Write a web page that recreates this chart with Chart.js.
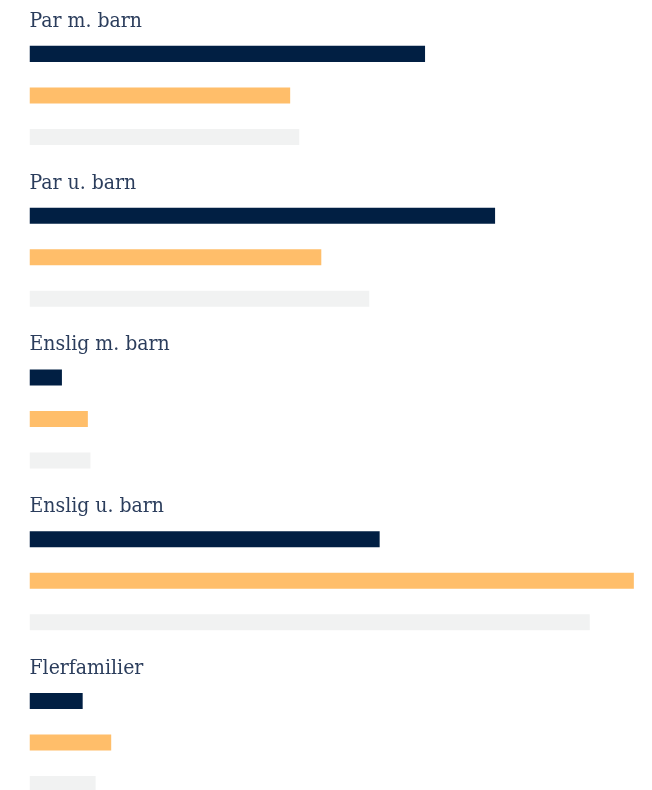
<!DOCTYPE html>
<html>
<head>
<meta charset="utf-8">
<script src="https://cdn.jsdelivr.net/npm/chart.js@4"></script>
<style>
  html, body { margin: 0; padding: 0; background: #ffffff; overflow: hidden; }
  #wrap { position: relative; width: 652px; height: 836px; }
</style>
</head>
<body>
<div id="wrap"><canvas id="c"></canvas></div>
<script>
const categories = ['Par m. barn', 'Par u. barn', 'Enslig m. barn', 'Enslig u. barn', 'Flerfamilier'];
const series1 = [30.5, 35.9, 2.5, 27.0, 4.1];
const series2 = [20.1, 22.5, 4.5, 46.6, 6.3];
const series3 = [20.8, 26.2, 4.7, 43.2, 5.1];
const seriesNames = ['Serie 1', 'Serie 2', 'Serie 3'];
const seriesColors = ['#011f43', '#ffbe6a', '#f1f2f2'];

new Chart(document.getElementById('c'), {
  type: 'bar',
  data: {
    labels: categories,
    datasets: [series1, series2, series3].map((d, i) => ({
      label: seriesNames[i],
      data: d,
      backgroundColor: seriesColors[i],
      borderWidth: 0,
      categoryPercentage: 0.77,
      barPercentage: 0.386
    }))
  },
  options: {
    indexAxis: 'y',
    responsive: true,
    maintainAspectRatio: false,
    animation: false,
    layout: { padding: { left: 29.5, right: 0, top: 14.5, bottom: 0 } },
    plugins: { legend: { display: false }, tooltip: { enabled: false } },
    scales: {
      x: { display: false, min: 0, max: 48 },
      y: {
        grid: { display: false, drawTicks: false },
        border: { display: false },
        ticks: {
          mirror: true,
          padding: 0,
          labelOffset: -74,
          color: '#2b3d5c',
          font: { family: "'DejaVu Serif Condensed', 'DejaVu Serif', serif", size: 21 }
        }
      }
    }
  }
});
</script>
</body>
</html>
